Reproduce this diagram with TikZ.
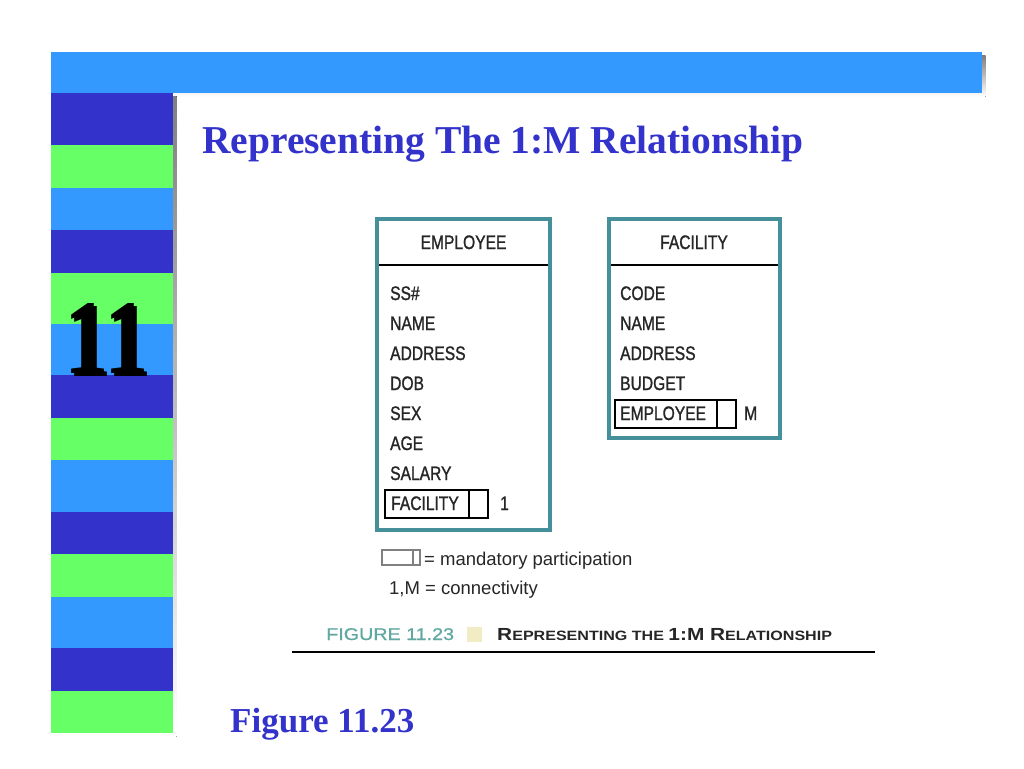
\documentclass[tikz,border=0pt]{standalone}
\usepackage{fontspec}
\setmainfont{Liberation Serif}
\newfontfamily\tabfont[FakeStretch=0.8,FakeBold=1.2]{Liberation Sans}
\newfontfamily\legfont{Liberation Sans}
\newfontfamily\capfont[FakeBold=0.8]{Liberation Sans}
\definecolor{dkblue}{HTML}{3333CC}
\definecolor{ltblue}{HTML}{3399FF}
\definecolor{grn}{HTML}{66FF66}
\definecolor{shade}{HTML}{808080}
\definecolor{teal}{HTML}{45909A}
\definecolor{figteal}{HTML}{62A8A2}
\definecolor{pale}{HTML}{F2ECC4}
\definecolor{ink}{HTML}{262626}
\tikzset{
  tabtext/.style={inner sep=0pt, anchor=base west, font=\tabfont\fontsize{19.5}{22}\selectfont, text=ink},
  tabhead/.style={inner sep=0pt, anchor=base, font=\tabfont\fontsize{19.5}{22}\selectfont, text=ink},
  tablebox/.style={draw=teal, line width=4.5pt},
  minibox/.style={draw=black, line width=1.5pt},
  legtext/.style={inner sep=0pt, anchor=base west, font=\legfont\fontsize{18.5}{22}\selectfont, text=ink},
}
\begin{document}
\begin{tikzpicture}[x=1pt,y=-1pt]
\useasboundingbox (0,0) rectangle (1024,768);
\fill[white] (0,0) rectangle (1024,768);
% shadows
\fill[shade] (55,56) rectangle (985.5,96.5);
\fill[shade] (55,96) rectangle (176.5,736.5);
% top bar
\fill[ltblue] (51,52) rectangle (982,93);
% stripes
\fill[dkblue] (51,93) rectangle (173,145);
\fill[grn] (51,145) rectangle (173,188);
\fill[ltblue] (51,188) rectangle (173,230);
\fill[dkblue] (51,230) rectangle (173,273);
\fill[grn] (51,273) rectangle (173,324);
\fill[ltblue] (51,324) rectangle (173,375);
\fill[dkblue] (51,375) rectangle (173,418);
\fill[grn] (51,418) rectangle (173,460);
\fill[ltblue] (51,460) rectangle (173,512);
\fill[dkblue] (51,512) rectangle (173,554);
\fill[grn] (51,554) rectangle (173,597);
\fill[ltblue] (51,597) rectangle (173,648);
\fill[dkblue] (51,648) rectangle (173,691);
\fill[grn] (51,691) rectangle (173,733);
% chapter number with its shadow
\node[inner sep=0pt, anchor=base, font=\bfseries\fontsize{106}{110}\selectfont, xscale=0.84] (chapsh) at (110,376) {11};
\node[inner sep=0pt, anchor=base, font=\bfseries\fontsize{106}{110}\selectfont, xscale=0.84] (chap) at (107,373) {11};
% title
\node[inner sep=0pt, anchor=base west, font=\bfseries\fontsize{39.5}{44}\selectfont, text=dkblue] (title) at (202,153) {Representing The 1:M Relationship};
% EMPLOYEE table
\draw[tablebox] (377.2,219.2) rectangle (549.8,529.8);
\draw[black, line width=2.5pt] (379,265) -- (548,265);
\node[tabhead] (emphead) at (463.5,249) {EMPLOYEE};
\node[tabtext] (e1) at (390,300) {SS\#};
\node[tabtext] (e2) at (390,330) {NAME};
\node[tabtext] (e3) at (390,360) {ADDRESS};
\node[tabtext] (e4) at (390,390) {DOB};
\node[tabtext] (e5) at (390,420) {SEX};
\node[tabtext] (e6) at (390,450) {AGE};
\node[tabtext] (e7) at (390,480) {SALARY};
\draw[minibox] (385,490) rectangle (488,518);
\draw[minibox] (469,490) -- (469,518);
\node[tabtext] (e8) at (391,510) {FACILITY};
\node[tabtext] (e9) at (500,510) {1};
% FACILITY table
\draw[tablebox] (609.2,219.2) rectangle (779.8,437.8);
\draw[black, line width=2.5pt] (611,265) -- (778,265);
\node[tabhead] (fachead) at (694,249) {FACILITY};
\node[tabtext] (f1) at (620,300) {CODE};
\node[tabtext] (f2) at (620,330) {NAME};
\node[tabtext] (f3) at (620,360) {ADDRESS};
\node[tabtext] (f4) at (620,390) {BUDGET};
\draw[minibox] (615,400) rectangle (736,428);
\draw[minibox] (717,400) -- (717,428);
\node[tabtext] (f5) at (620,420) {EMPLOYEE};
\node[tabtext] (f6) at (744,420) {M};
% legend
\draw[draw=shade, line width=1.1pt] (382,550) rectangle (420,565);
\draw[draw=shade, line width=1.1pt] (413,550) -- (413,565);
\node[legtext] (leg1) at (424,565) {= mandatory participation};
\node[legtext] (leg2) at (389,594) {1,M = connectivity};
% caption
\node[inner sep=0pt, anchor=base west, font=\capfont\fontsize{17}{20}\selectfont, text=figteal, xscale=1.16] (figno) at (326,640) {FIGURE 11.23};
\fill[pale] (467,627) rectangle (482,642);
\node[inner sep=0pt, anchor=base west, font=\legfont\bfseries, text=ink, xscale=1.19] (captext) at (497,640)
  {\fontsize{17.5}{20}\selectfont R\fontsize{13.5}{20}\selectfont EPRESENTING THE \fontsize{17.5}{20}\selectfont 1:M R\fontsize{13.5}{20}\selectfont ELATIONSHIP};
\draw[black, line width=2.5pt] (292,652) -- (875,652);
% figure label
\node[inner sep=0pt, anchor=base west, font=\bfseries\fontsize{35}{40}\selectfont, text=dkblue] (figlabel) at (230,732) {Figure 11.23};
\end{tikzpicture}
\end{document}
